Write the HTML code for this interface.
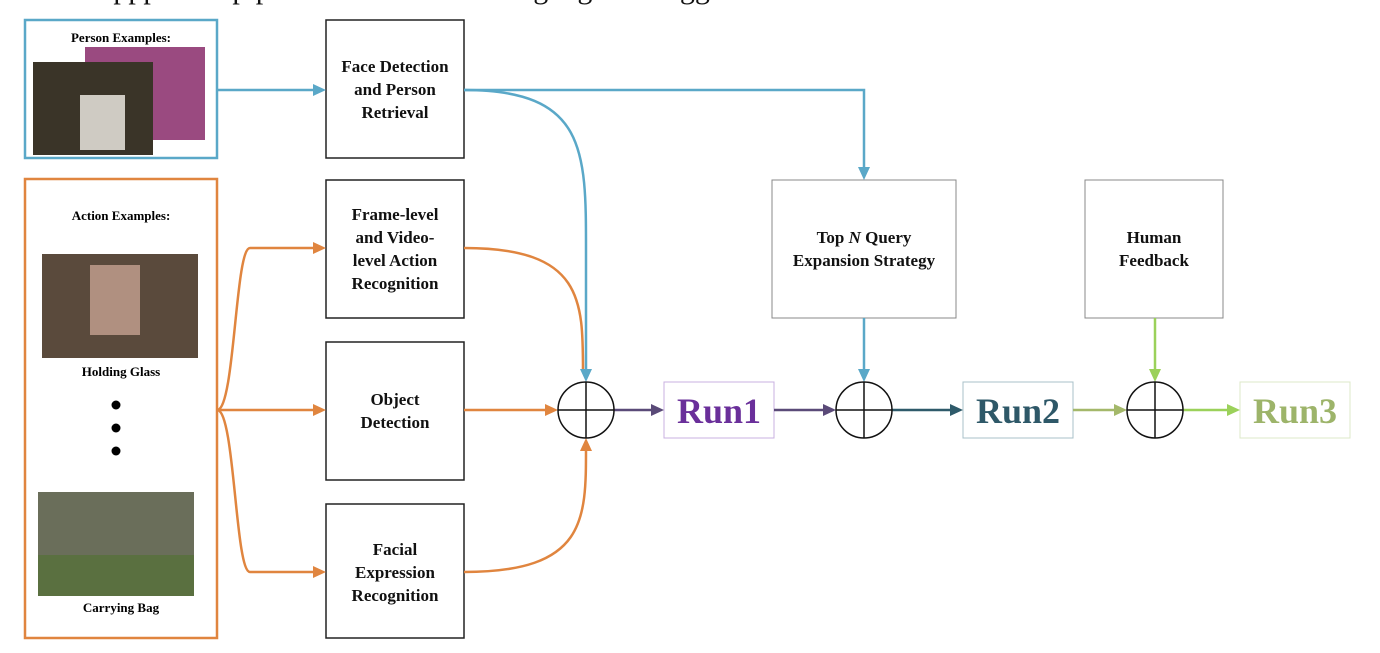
<!DOCTYPE html>
<html><head><style>
body{margin:0;background:#fff;width:1380px;height:648px;overflow:hidden}
svg text{font-family:"Liberation Serif",serif;font-weight:bold}
</style></head><body>
<svg width="1380" height="648" xmlns="http://www.w3.org/2000/svg">
<text x="100" y="-2" font-size="30" style="font-weight:normal" fill="#111">appproach pipeline and the following algorithm gg</text>
<!-- person box -->
<rect x="25" y="20" width="192" height="138" fill="#fff" stroke="#5aa8c8" stroke-width="2.5"/>
<text x="121" y="42" font-size="13" text-anchor="middle">Person Examples:</text>
<rect x="85" y="47" width="120" height="93" fill="#9a4a80"/>
<rect x="33" y="62" width="120" height="93" fill="#3a3428"/>
<rect x="80" y="95" width="45" height="55" fill="#cfcbc3"/>
<!-- action box -->
<rect x="25" y="179" width="192" height="459" fill="#fff" stroke="#e0853f" stroke-width="2.5"/>
<text x="121" y="220" font-size="13" text-anchor="middle">Action Examples:</text>
<rect x="42" y="254" width="156" height="104" fill="#5a4a3c"/>
<rect x="90" y="265" width="50" height="70" fill="#b09080"/>
<text x="121" y="376" font-size="13" text-anchor="middle">Holding Glass</text>
<circle cx="116" cy="405" r="4.5" fill="#000"/><circle cx="116" cy="428" r="4.5" fill="#000"/><circle cx="116" cy="451" r="4.5" fill="#000"/>
<rect x="38" y="492" width="156" height="104" fill="#6a6e5a"/>
<rect x="38" y="555" width="156" height="41" fill="#5a7040"/>
<text x="121" y="612" font-size="13" text-anchor="middle">Carrying Bag</text>
<!-- process boxes -->
<g fill="#fff" stroke="#222" stroke-width="1.5">
<rect x="326" y="20" width="138" height="138"/>
<rect x="326" y="180" width="138" height="138"/>
<rect x="326" y="342" width="138" height="138"/>
<rect x="326" y="504" width="138" height="134"/>
</g>
<g fill="#fff" stroke="#888" stroke-width="1">
<rect x="772" y="180" width="184" height="138"/>
<rect x="1085" y="180" width="138" height="138"/>
</g>
<g font-size="17" text-anchor="middle" fill="#111">
<text x="395" y="72">Face Detection</text><text x="395" y="95">and Person</text><text x="395" y="118">Retrieval</text>
<text x="395" y="220">Frame-level</text><text x="395" y="243">and Video-</text><text x="395" y="266">level Action</text><text x="395" y="289">Recognition</text>
<text x="395" y="405">Object</text><text x="395" y="428">Detection</text>
<text x="395" y="555">Facial</text><text x="395" y="578">Expression</text><text x="395" y="601">Recognition</text>
<text x="864" y="243">Top <tspan font-style="italic">N</tspan> Query</text><text x="864" y="266">Expansion Strategy</text>
<text x="1154" y="243">Human</text><text x="1154" y="266">Feedback</text>
</g>
<!-- run boxes -->
<rect x="664" y="382" width="110" height="56" fill="#fff" stroke="#c8b0e0"/>
<rect x="963" y="382" width="110" height="56" fill="#fff" stroke="#a8c0c8"/>
<rect x="1240" y="382" width="110" height="56" fill="#fff" stroke="#dde8c8"/>
<g font-size="36" text-anchor="middle">
<text x="719" y="423" fill="#6a2f9a">Run1</text>
<text x="1018" y="423" fill="#2e5868">Run2</text>
<text x="1295" y="423" fill="#9db46a">Run3</text>
</g>
<!-- connectors -->
<g fill="none" stroke-width="2.5">
<path d="M217,90 L316,90" stroke="#5aa8c8"/>
<path d="M464,90 C586,90 586,150 586,250 L586,372" stroke="#5aa8c8"/>
<path d="M464,90 L864,90 L864,170" stroke="#5aa8c8"/>
<path d="M864,318 L864,372" stroke="#5aa8c8"/>
<path d="M1155,318 L1155,372" stroke="#9bd15a"/>
<path d="M217,410 C235,410 235,248 250,248 L316,248" stroke="#e0853f"/>
<path d="M217,410 L316,410" stroke="#e0853f"/>
<path d="M217,410 C235,410 235,572 250,572 L316,572" stroke="#e0853f"/>
<path d="M464,248 C583,248 583,300 583,372" stroke="#e0853f"/>
<path d="M464,410 L548,410" stroke="#e0853f"/>
<path d="M464,572 C586,572 586,520 586,448" stroke="#e0853f"/>
<path d="M614,410 L654,410" stroke="#5a4a78"/>
<path d="M774,410 L826,410" stroke="#5a4a78"/>
<path d="M892,410 L953,410" stroke="#2e5a6a"/>
<path d="M1073,410 L1117,410" stroke="#a4b86a"/>
<path d="M1183,410 L1230,410" stroke="#9bd15a"/>
</g>
<!-- arrowheads -->
<g>
<path d="M326,90 l-13,-6 v12z" fill="#5aa8c8"/>
<path d="M586,382 l-6,-13 h12z" fill="#5aa8c8"/>
<path d="M864,180 l-6,-13 h12z" fill="#5aa8c8"/>
<path d="M864,382 l-6,-13 h12z" fill="#5aa8c8"/>
<path d="M1155,382 l-6,-13 h12z" fill="#9bd15a"/>
<path d="M326,248 l-13,-6 v12z" fill="#e0853f"/>
<path d="M326,410 l-13,-6 v12z" fill="#e0853f"/>
<path d="M326,572 l-13,-6 v12z" fill="#e0853f"/>
<path d="M558,410 l-13,-6 v12z" fill="#e0853f"/>
<path d="M586,438 l-6,13 h12z" fill="#e0853f"/>
<path d="M664,410 l-13,-6 v12z" fill="#5a4a78"/>
<path d="M836,410 l-13,-6 v12z" fill="#5a4a78"/>
<path d="M963,410 l-13,-6 v12z" fill="#2e5a6a"/>
<path d="M1127,410 l-13,-6 v12z" fill="#a4b86a"/>
<path d="M1240,410 l-13,-6 v12z" fill="#9bd15a"/>
</g>
<!-- circles -->
<g fill="none" stroke="#111" stroke-width="1.5">
<ellipse cx="586" cy="410" rx="28" ry="28"/><path d="M558,410 H614 M586,382 V438"/>
<ellipse cx="864" cy="410" rx="28" ry="28"/><path d="M836,410 H892 M864,382 V438"/>
<ellipse cx="1155" cy="410" rx="28" ry="28"/><path d="M1127,410 H1183 M1155,382 V438"/>
</g>
</svg>
</body></html>
